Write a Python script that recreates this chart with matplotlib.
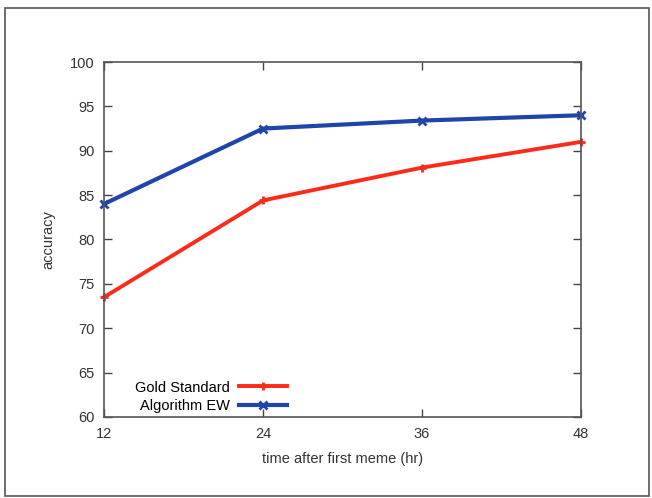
import matplotlib.pyplot as plt
from matplotlib.patches import Rectangle

hours = [12, 24, 36, 48]
gold_standard = [73.5, 84.4, 88.1, 91.0]
algorithm_ew = [84.0, 92.5, 93.4, 94.0]
y_ticks = [60, 65, 70, 75, 80, 85, 90, 95, 100]

plt.rcParams['font.family'] = ['Liberation Sans', 'DejaVu Sans']

fig = plt.figure(figsize=(6.52, 4.98), dpi=100)
ax = fig.add_axes([0.1595, 0.1627, 0.7315, 0.7128])

# outer frame round the whole figure
fig.patches.append(Rectangle((0.007, 0.005), 0.988, 0.978, transform=fig.transFigure,
                             fill=False, edgecolor='#555555', linewidth=1.2))

ax.plot(hours, gold_standard, color='#ff2a1a', linewidth=2.8, marker='+',
        markersize=6, markeredgewidth=2, label='Gold Standard', clip_on=False)
ax.plot(hours, algorithm_ew, color='#1f45a8', linewidth=3, marker='x',
        markersize=6, markeredgewidth=2, label='Algorithm EW', clip_on=False)

ax.set_xlim(12, 48)
ax.set_ylim(60, 100)
ax.set_xticks(hours)
ax.set_yticks(y_ticks)
ax.tick_params(direction='in', top=True, right=True, length=6, width=1,
               color='#444444', labelsize=10.5, labelcolor='#333333', pad=7)
for s in ax.spines.values():
    s.set_color('#555555')
    s.set_linewidth(1.2)

ax.set_xlabel('time after first meme (hr)', fontsize=10.5, color='#333333', labelpad=8)
ax.set_ylabel('accuracy', fontsize=10.5, color='#333333', labelpad=10)

ax.legend(loc='lower left', markerfirst=False, frameon=False, fontsize=10.5,
          handlelength=3.3, handletextpad=0.6, labelspacing=0.3,
          borderaxespad=0.0, bbox_to_anchor=(0.053, -0.005))

plt.savefig('out.png', dpi=100)
